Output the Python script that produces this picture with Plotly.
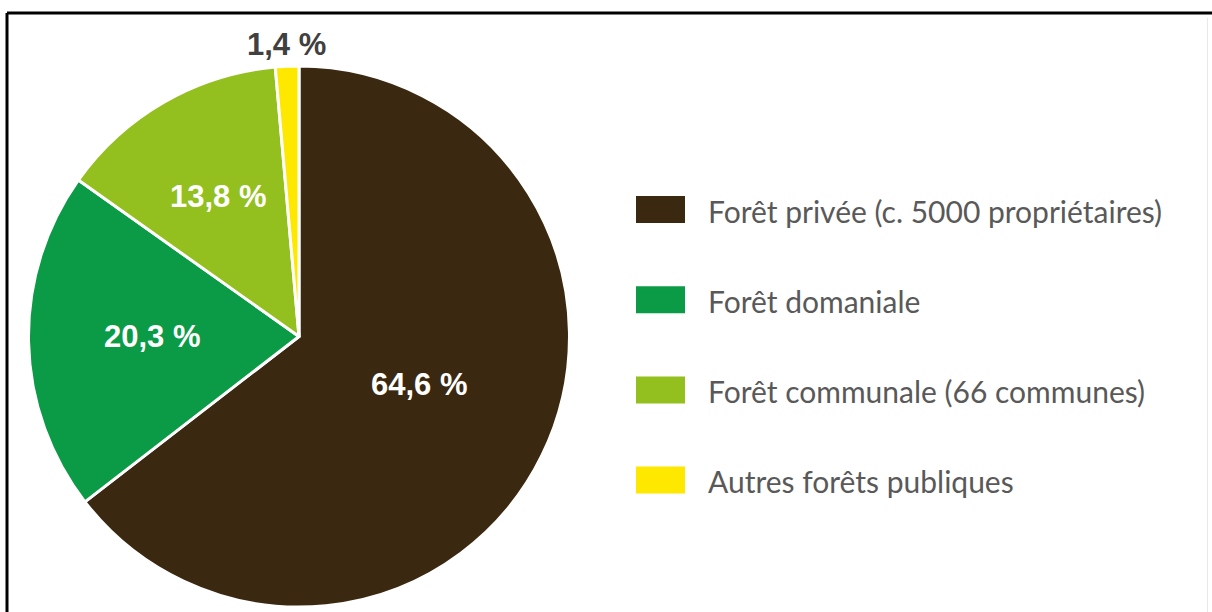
import math
import plotly.graph_objects as go

# Répartition de la surface forestière par type de propriété
categories = [
    "Forêt privée (c. 5000 propriétaires)",
    "Forêt domaniale",
    "Forêt communale (66 communes)",
    "Autres forêts publiques",
]
shares = [64.6, 20.3, 13.8, 1.4]
colors = ["#3b2811", "#0b9a45", "#93bf1f", "#ffe800"]
label_colors = ["#ffffff", "#ffffff", "#ffffff", "#404040"]

W, H = 1212, 612

# pie placement in pixels
cx, cy, r = 299.0, 336.5, 270.5
dom_x = [(cx - r) / W, (cx + r) / W]
dom_y = [1 - (cy + r) / H, 1 - (cy - r) / H]

fig = go.Figure(
    go.Pie(
        labels=categories,
        values=shares,
        sort=False,
        direction="clockwise",
        rotation=0,
        marker=dict(colors=colors, line=dict(color="#ffffff", width=3)),
        textinfo="none",
        hoverinfo="label+percent",
        showlegend=False,
        domain=dict(x=dom_x, y=dom_y),
    )
)

# value labels: radial distance (fraction of radius) and angular nudge per slice
label_radius = [0.48, 0.543, 0.597, 1.082]
label_shift = [-4.7, 1.3, 0.0, 0.0]

annotations = []
total = sum(shares)
start = 0.0
for i, v in enumerate(shares):
    mid = (start + v / 2) / total * 360.0 + label_shift[i]
    start += v
    a = math.radians(mid)
    px = cx + label_radius[i] * r * math.sin(a)
    py = cy - label_radius[i] * r * math.cos(a)
    annotations.append(
        dict(
            x=px / W, y=1 - py / H, xref="paper", yref="paper",
            text=f"{v:.1f} %".replace(".", ","),
            showarrow=False, xanchor="center", yanchor="middle",
            font=dict(family="Liberation Sans, Arial, sans-serif", size=31,
                      color=label_colors[i], weight="bold"),
        )
    )

# legend drawn as swatches + text
shapes = []
row0, row_gap = 209.5, 90.2
sw_x0, sw_x1, sw_h = 636, 685, 27
for i, (name, col) in enumerate(zip(categories, colors)):
    yc = row0 + i * row_gap
    shapes.append(dict(
        type="rect", xref="paper", yref="paper",
        x0=sw_x0 / W, x1=sw_x1 / W,
        y0=1 - (yc + sw_h / 2) / H, y1=1 - (yc - sw_h / 2) / H,
        fillcolor=col, line=dict(width=0),
    ))
    annotations.append(dict(
        x=706 / W, y=1 - (yc + 1.0) / H, xref="paper", yref="paper",
        text=name, showarrow=False, xanchor="left", yanchor="middle",
        font=dict(family="Lato, sans-serif", size=30, color="#595959"),
    ))

# frame lines (top and left), faint right edge
shapes += [
    dict(type="line", xref="paper", yref="paper", x0=7 / W, x1=1.0,
         y0=1 - 13 / H, y1=1 - 13 / H, line=dict(color="#000000", width=3)),
    dict(type="line", xref="paper", yref="paper", x0=7 / W, x1=7 / W,
         y0=1 - 13 / H, y1=0.0, line=dict(color="#000000", width=3)),
    dict(type="line", xref="paper", yref="paper", x0=1207.5 / W, x1=1207.5 / W,
         y0=1 - 18 / H, y1=0.0, line=dict(color="#e8e8e8", width=1)),
]

fig.update_layout(
    width=W, height=H,
    margin=dict(l=0, r=0, t=0, b=0),
    paper_bgcolor="#ffffff",
    plot_bgcolor="#ffffff",
    annotations=annotations,
    shapes=shapes,
)

fig.write_html("out.html")
